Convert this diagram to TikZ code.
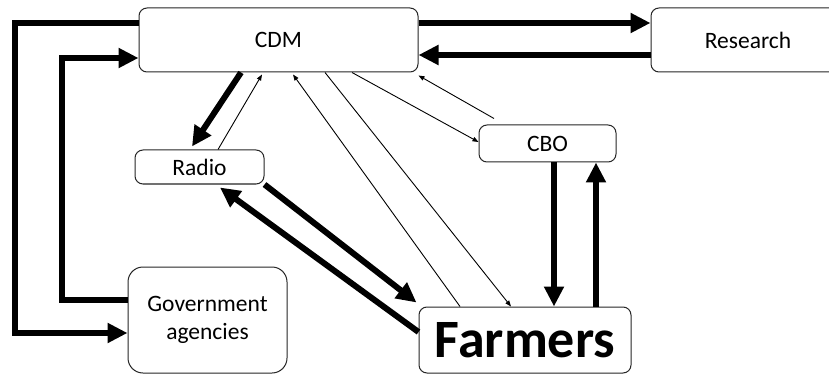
\documentclass[tikz,border=0pt]{standalone}
\usepackage{fontspec}
\setmainfont{Carlito}
\usetikzlibrary{arrows.meta}
\begin{document}
\begin{tikzpicture}[x=1pt,y=-1pt,
  box/.style={draw=black!85,line width=1pt,rounded corners=8pt,fill=white,
    font=\fontsize{23.5}{26}\selectfont,align=center,inner sep=0pt},
  heavy/.style={line width=6pt,-{Triangle[length=20pt,width=19pt]}},
  light/.style={line width=0.9pt,-{Triangle[length=6pt,width=4.5pt]}}]
\clip (0,0) rectangle (829,374);
\fill[white] (0,0) rectangle (829,374);

% boxes
\node[box,minimum width=279pt,minimum height=64pt] (CDM) at (278.5,40) {CDM};
\node[box,minimum width=194pt,minimum height=64pt] (Research) at (748,40) {Research};
\node[box,minimum width=137pt,minimum height=37pt] (CBO) at (547.5,143.5) {CBO};
\node[box,minimum width=129pt,minimum height=34pt] (Radio) at (199.5,167) {Radio};
\node[box,rounded corners=15pt,minimum width=159pt,minimum height=106pt,
      font=\fontsize{23.5}{28}\selectfont] (Gov) at (207.5,320) {Government\\agencies};
\node[box,minimum width=212pt,minimum height=66pt,
      font=\fontsize{54}{56}\selectfont\bfseries] (Farmers) at (525,340) {Farmers};

% CDM <-> government agencies
\draw[heavy] ([yshift=17pt]CDM.west) -- ++(-124,0) |- ([yshift=-13pt]Gov.west);
\draw[heavy] ([yshift=20pt]Gov.west) -- ++(-66,0) |- ([yshift=-18pt]CDM.west);

% CDM <-> research
\draw[heavy] ([yshift=17pt]CDM.east) -- ([yshift=17pt]Research.west);
\draw[heavy] ([yshift=-15pt]Research.west) -- ([yshift=-15pt]CDM.east);

% CDM <-> radio
\draw[heavy] ([xshift=-37.5pt]CDM.south) -- ([shift={(-7.5pt,3pt)}]Radio.north);
\draw[light] ([xshift=18.5pt]Radio.north) -- ([shift={(-16.5pt,-2pt)}]CDM.south);

% CDM <-> farmers
\draw[light] ([xshift=-65pt]Farmers.north) -- ([shift={(14.5pt,-2pt)}]CDM.south);
\draw[light] ([xshift=46.5pt]CDM.south) -- ([xshift=-14pt]Farmers.north);

% CDM <-> CBO
\draw[light] ([xshift=73.5pt]CDM.south) -- ([yshift=1.5pt]CBO.west);
\draw[light] ([shift={(-53.5pt,6pt)}]CBO.north) -- ([shift={(0pt,-3pt)}]CDM.south east);

% CBO <-> farmers
\draw[heavy] ([xshift=6.5pt]CBO.south) -- ([xshift=29pt]Farmers.north);
\draw[heavy] ([xshift=71pt]Farmers.north) -- ([xshift=48.5pt]CBO.south);

% radio <-> farmers
\draw[heavy] (Radio.south east) -- ([shift={(-2pt,4pt)}]Farmers.north west);
\draw[heavy] ([yshift=8pt]Farmers.west) -- ([shift={(20.5pt,-3pt)}]Radio.south);
\end{tikzpicture}
\end{document}
